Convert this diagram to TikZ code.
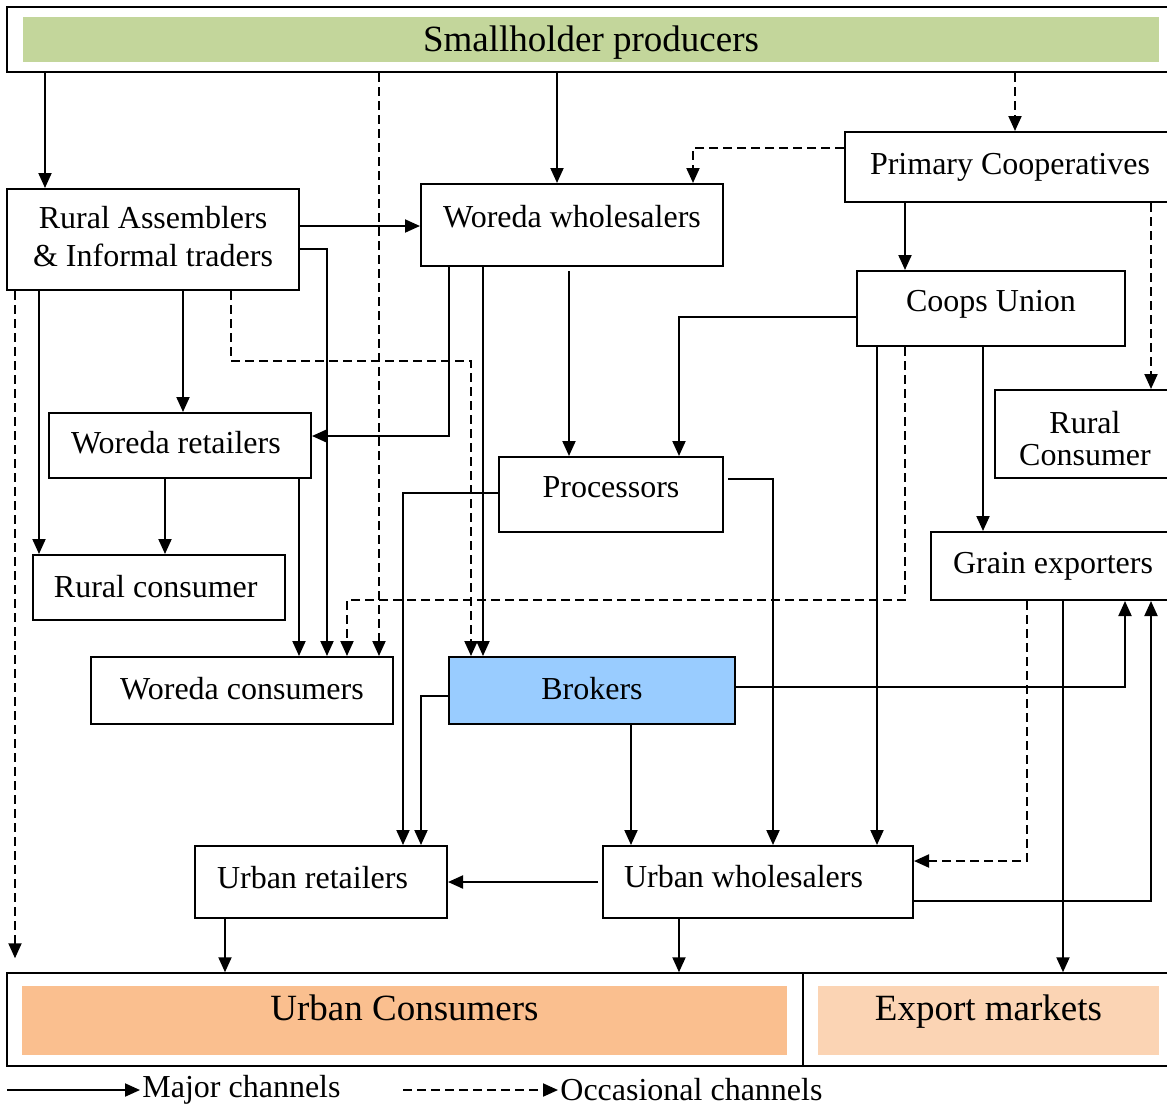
\documentclass[tikz,border=0pt]{standalone}
\usepackage{fontspec}
\setmainfont{Liberation Serif}
\usepackage{xcolor}
\usetikzlibrary{positioning, arrows.meta}

\definecolor{prodgreen}{HTML}{C3D69B}
\definecolor{brokblue}{HTML}{99CCFF}
\definecolor{urbanorange}{HTML}{FABF8F}
\definecolor{exportpeach}{HTML}{FBD4B4}

\begin{document}
\begin{tikzpicture}[x=0.5pt, y=-0.5pt,
  box/.style={draw, line width=1pt, inner sep=0pt, font=\fontsize{16}{19}\selectfont, align=center},
  lbox/.style={box, inner xsep=11pt, align=flush left},
  band/.style={inner sep=0pt, font=\fontsize{18.5}{22}\selectfont},
  outerbox/.style={draw, line width=#1, inner sep=0pt},
  major/.style={-{Triangle[length=7.5pt, width=6.5pt]}, line width=1pt},
  occas/.style={major, dash pattern=on 4.5pt off 2.5pt},
  legtxt/.style={font=\fontsize{16}{19}\selectfont, inner sep=0pt, anchor=west}]

  \useasboundingbox (0,0) rectangle (1167,1105);
  \clip (0,0) rectangle (1167,1105);

  % top and bottom bands
  \node[outerbox=1pt, minimum width=584pt, minimum height=32.5pt] (prodframe) at (591,39.5) {};
  \node[band, fill=prodgreen, minimum width=568pt, minimum height=22.5pt, text depth=1pt] (prod) at (591,39.5) {Smallholder producers};
  \node[outerbox=0.75pt, minimum width=398pt, minimum height=46.5pt] (ucframe) at (405,1019.5) {};
  \node[outerbox=0.75pt, minimum width=186pt, minimum height=46.5pt] (exframe) at (989,1019.5) {};
  \node[band, fill=urbanorange, minimum width=382.5pt, minimum height=34.5pt, text depth=12.5pt] (ucons) at (404.5,1020.5) {Urban Consumers};
  \node[band, fill=exportpeach, minimum width=170.5pt, minimum height=34.5pt, text depth=12.5pt] (export) at (988.5,1020.5) {Export markets};

  % actors
  \node[box, minimum width=165pt, minimum height=35pt] (pcoop) at (1010,167) {Primary Cooperatives};
  \node[box, minimum width=146pt, minimum height=50.5pt, text depth=3pt] (rasm) at (153,239.5) {Rural Assemblers\\\& Informal traders};
  \node[box, minimum width=151pt, minimum height=41pt, text depth=9pt] (wwhole) at (572,225) {Woreda wholesalers};
  \node[box, minimum width=134pt, minimum height=37.5pt, text depth=8pt] (cunion) at (991,308.5) {Coops Union};
  \node[box, font=\fontsize{16}{16}\selectfont, minimum width=90pt, minimum height=44pt, text height=31pt, text depth=0pt] (coopcons) at (1085,434) {Rural\\Consumer};
  \node[lbox, text width=109pt, minimum height=32.5pt, text depth=3.5pt] (wretail) at (180,445.5) {Woreda retailers};
  \node[box, minimum width=112pt, minimum height=37.5pt, text depth=7pt] (proc) at (611,494.5) {Processors};
  \node[lbox, inner xsep=10.5pt, text width=105pt, minimum height=32.5pt, text depth=1.5pt] (ruralcons) at (159,587.5) {Rural consumer};
  \node[box, minimum width=122pt, minimum height=34pt] (gexp) at (1053,566) {Grain exporters};
  \node[box, minimum width=151pt, minimum height=33.5pt, text depth=2.5pt] (wcons) at (242,690.5) {Woreda consumers};
  \node[box, fill=brokblue, minimum width=143pt, minimum height=33.5pt, text depth=2.5pt] (brok) at (592,690.5) {Brokers};
  \node[lbox, text width=104pt, minimum height=36pt, text depth=5pt] (uret) at (321,882) {Urban retailers};
  \node[lbox, inner xsep=10.5pt, text width=134pt, minimum height=36pt, text depth=6pt] (uwhole) at (758,882) {Urban wholesalers};

  % channels
  \draw[major] (45,0 |- prodframe.south) -- (45,0 |- rasm.north);
  \draw[occas] (379,0 |- prodframe.south) -- (379,0 |- wcons.north);
  \draw[major] (557,0 |- prodframe.south) -- (557,0 |- wwhole.north);
  \draw[occas] (1015,0 |- prodframe.south) -- (1015,0 |- pcoop.north);
  \draw[occas] (pcoop.west |- 0,148) -| (693,0 |- wwhole.north);
  \draw[major] (905,0 |- pcoop.south) -- (905,0 |- cunion.north);
  \draw[occas] (1151,0 |- pcoop.south) -- (1151,0 |- coopcons.north);
  \draw[major] (rasm.east |- 0,226) -- (wwhole.west |- 0,226);
  \draw[major] (rasm.east |- 0,249) -| (327,0 |- wcons.north);
  \draw[major] (183,0 |- rasm.south) -- (183,0 |- wretail.north);
  \draw[major] (39,0 |- rasm.south) -- (39,0 |- ruralcons.north);
  \draw[occas, shorten >=7pt] (15,0 |- rasm.south) -- (15,0 |- ucframe.north);
  \draw[occas] (231,0 |- rasm.south) -- (231,361) -| (471,0 |- brok.north);
  \draw[major] (449,0 |- wwhole.south) |- (wretail.east |- 0,436);
  \draw[major] (483,0 |- wwhole.south) -- (483,0 |- brok.north);
  \draw[major, shorten <=2pt] (569,0 |- wwhole.south) -- (569,0 |- proc.north);
  \draw[major] (cunion.west |- 0,317) -| (679,0 |- proc.north);
  \draw[major] (877,0 |- cunion.south) -- (877,0 |- uwhole.north);
  \draw[occas] (905,0 |- cunion.south) -- (905,600) -| (347,0 |- wcons.north);
  \draw[major] (983,0 |- cunion.south) -- (983,0 |- gexp.north);
  \draw[major] (165,0 |- wretail.south) -- (165,0 |- ruralcons.north);
  \draw[major] (299,0 |- wretail.south) -- (299,0 |- wcons.north);
  \draw[major] (proc.west |- 0,493) -| (403,0 |- uret.north);
  \draw[major, shorten <=2pt] (proc.east |- 0,479) -| (773,0 |- uwhole.north);
  \draw[major] (brok.west |- 0,696) -| (421,0 |- uret.north);
  \draw[major] (631,0 |- brok.south) -- (631,0 |- uwhole.north);
  \draw[major] (brok.east |- 0,687) -| (1125,0 |- gexp.south);
  \draw[major] (uwhole.east |- 0,901) -| (1151,0 |- gexp.south);
  \draw[occas] (1027,0 |- gexp.south) |- (uwhole.east |- 0,861);
  \draw[major] (1063,0 |- gexp.south) -- (1063,0 |- exframe.north);
  \draw[major, shorten <=2pt] (uwhole.west |- 0,882) -- (uret.east |- 0,882);
  \draw[major] (225,0 |- uret.south) -- (225,0 |- ucframe.north);
  \draw[major] (679,0 |- uwhole.south) -- (679,0 |- ucframe.north);

  % legend
  \coordinate (majstart) at (7,1090);
  \node[legtxt] (majtxt) at (142,1090) {Major channels};
  \coordinate (occstart) at (403,1090);
  \node[legtxt] (occtxt) at (560,1090) {Occasional channels};
  \draw[major, shorten >=1pt] (majstart) -- (majtxt.west |- majstart);
  \draw[occas, shorten >=1pt] (occstart) -- (occtxt.west |- occstart);
\end{tikzpicture}
\end{document}
